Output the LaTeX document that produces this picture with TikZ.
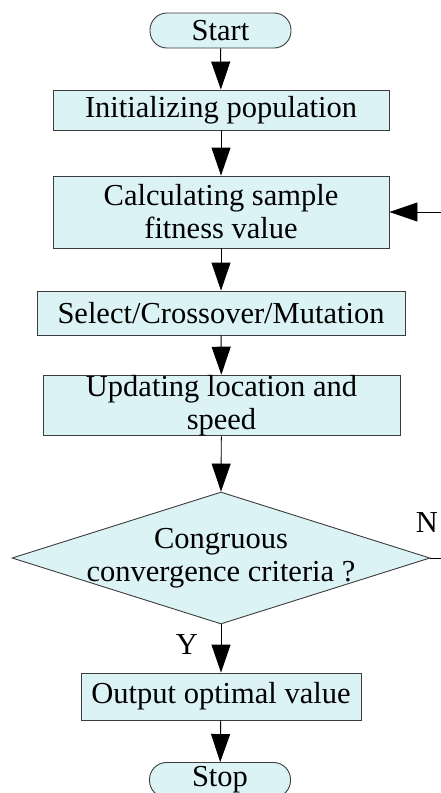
\documentclass[tikz,border=0pt]{standalone}
\usepackage{fontspec}
\setmainfont{Liberation Serif}
\usetikzlibrary{arrows.meta,shapes.geometric}
\definecolor{boxfill}{RGB}{220,243,246}
\definecolor{boxline}{RGB}{60,60,60}
\begin{document}
\begin{tikzpicture}[x=1pt,y=-1pt,
  every node/.style={font=\fontsize{30.5}{33}\selectfont},
  procbox/.style={draw=boxline,fill=boxfill,line width=0.9pt,align=center,inner sep=0pt},
  termbox/.style={procbox,rounded corners=17pt,minimum width=141pt,minimum height=35pt},
  decbox/.style={draw=boxline,fill=boxfill,line width=0.9pt,shape=diamond,inner sep=0pt,
                 minimum width=418pt,minimum height=132pt,aspect=3.17},
  flow/.style={line width=0.9pt,-{Triangle[length=28pt,width=19pt]}},
  plain/.style={line width=0.9pt}]
\useasboundingbox (0,0) rectangle (441,793);

\node[termbox] (start) at (220.5,30.5) {Start};
\node[procbox,minimum width=336pt,minimum height=40pt] (init) at (221,110) {Initializing population};
\node[procbox,minimum width=336pt,minimum height=72pt] (calc) at (221,212) {Calculating sample\\fitness value};
\node[procbox,minimum width=368pt,minimum height=44pt] (sel) at (221,313) {Select/Crossover/Mutation};
\node[procbox,minimum width=357pt,minimum height=57pt] (upd) at (221.5,405.5) {Updating location and\\speed};
\node[decbox] (cond) at (221,558) {};
\node[align=center,inner sep=0pt] (condtxt) at (221,558) {Congruous\\convergence criteria ?};
\node[procbox,minimum width=280pt,minimum height=47pt] (out) at (221,696.5) {Output optimal value};
\node[termbox] (stop) at (220,780) {Stop};

\draw[flow] (start) -- (init);
\draw[flow] (init) -- (calc);
\draw[flow] (calc) -- (sel);
\draw[flow] (sel) -- (upd);
\draw[flow] (upd) -- (cond.north);
\draw[flow] (cond.south) -- (out);
\draw[flow] (out) -- (stop);

% loop back when not converged
\coordinate (nEnd) at (441,558);
\coordinate (loopIn) at (441,212);
\draw[plain] (cond.east) -- (nEnd);
\draw[flow] (loopIn) -- (calc.east);

\node (ylab) at (187,645) {Y};
\node (nlab) at (427,523) {N};
\end{tikzpicture}
\end{document}
